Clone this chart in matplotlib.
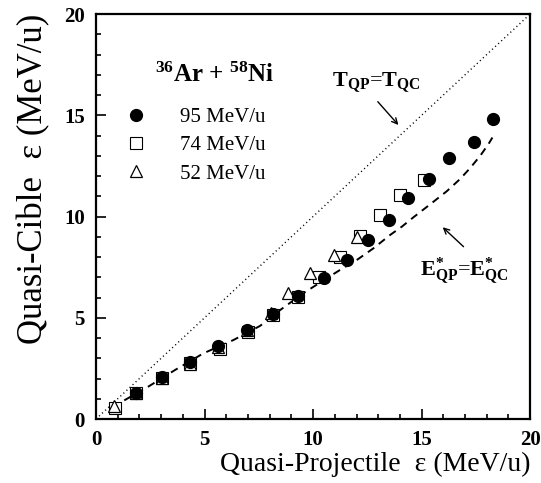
import numpy as np
import matplotlib
matplotlib.use("Agg")
import matplotlib.pyplot as plt
from matplotlib.ticker import MultipleLocator

# serif fonts everywhere, math in the same face
plt.rcParams['font.family'] = ['Liberation Serif', 'DejaVu Serif']
plt.rcParams['mathtext.fontset'] = 'custom'
plt.rcParams['mathtext.rm'] = 'Liberation Serif'
plt.rcParams['mathtext.bf'] = 'Liberation Serif:bold'
plt.rcParams['mathtext.it'] = 'Liberation Serif:italic'

# 95 MeV/u
x95 = [1.83, 3.03, 4.33, 5.64, 6.94, 8.14, 9.32, 10.48, 11.55, 12.55, 13.50, 14.36, 15.35, 16.24, 17.39, 18.28]
y95 = [1.30, 2.05, 2.80, 3.62, 4.40, 5.20, 6.06, 6.95, 7.87, 8.86, 9.83, 10.90, 11.87, 12.90, 13.70, 14.80]

# 74 MeV/u
x74 = [0.88, 1.83, 3.03, 4.33, 5.70, 6.98, 8.14, 9.32, 10.25, 11.24, 12.17, 13.09, 14.01, 15.13]
y74 = [0.55, 1.27, 2.01, 2.78, 3.45, 4.30, 5.15, 6.02, 7.03, 8.02, 9.05, 10.07, 11.06, 11.80]

# 52 MeV/u
x52 = [0.85, 1.83, 3.03, 4.35, 5.64, 6.94, 8.05, 8.86, 9.86, 10.94, 12.01]
y52 = [0.62, 1.30, 2.03, 2.72, 3.55, 4.38, 5.25, 6.21, 7.19, 8.10, 9.00]

# E*_QP = E*_QC curve
xe = [1.3, 2.41, 3.64, 4.94, 6.33, 7.56, 8.48, 9.55, 10.63, 11.24, 12.01, 12.78,
      13.55, 14.09, 14.62, 15.39, 16.16, 16.77, 17.24, 17.70, 18.08, 18.26]
ye = [0.92, 1.60, 2.42, 3.24, 3.90, 4.60, 5.38, 6.21, 6.95, 7.36, 7.85, 8.43,
      9.09, 9.50, 9.96, 10.60, 11.25, 11.85, 12.40, 13.00, 13.58, 13.90]

# T_QP = T_QC diagonal
xt = [0, 20]
yt = [0, 20]

fig = plt.figure(figsize=(5.41, 4.83), dpi=100)
ax = fig.add_axes([0.1775, 0.1325, 0.8025, 0.8385])

ax.plot(xt, yt, color='black', lw=1.0, ls=(0, (0.8, 2.2)))
ax.plot(xe, ye, color='black', lw=1.4, ls=(0, (4, 3)))

ax.plot(x74, y74, ls='none', marker='s', ms=8, mfc='white', mec='black', mew=0.8,
        label='74 MeV/u', zorder=3)
ax.plot(x52, y52, ls='none', marker='^', ms=8.5, mfc='white', mec='black', mew=0.9,
        label='52 MeV/u', zorder=3)
ax.plot(x95, y95, ls='none', marker='o', ms=8.5, color='black',
        label='95 MeV/u', zorder=4)

h, l = ax.get_legend_handles_labels()
order = [2, 0, 1]
ax.legend([h[i] for i in order], [l[i] for i in order], loc='upper left',
          bbox_to_anchor=(0.05, 0.79), frameon=False, fontsize=15,
          handletextpad=1.6, labelspacing=0.42, handlelength=1.0,
          borderaxespad=0)

ax.text(2.7, 16.64, r'$^{\mathbf{36}}$Ar + $^{\mathbf{58}}$Ni', fontsize=18,
        fontweight='bold', va='baseline')

# labels and their arrows
ax.text(12.9, 16.6, r'$\mathbf{T_{QP}}$=$\mathbf{T_{QC}}$', fontsize=16,
        ha='center', va='center')
ax.annotate('', xy=(13.93, 14.52), xytext=(12.98, 15.67),
            arrowprops=dict(arrowstyle='->', color='black', lw=1.0,
                            shrinkA=0, shrinkB=0))
ax.text(16.95, 7.3, r'$\mathbf{E^{*}_{QP}}$=$\mathbf{E^{*}_{QC}}$', fontsize=16,
        ha='center', va='center')
ax.annotate('', xy=(15.97, 9.47), xytext=(16.93, 8.51),
            arrowprops=dict(arrowstyle='->', color='black', lw=1.0,
                            shrinkA=0, shrinkB=0))

ax.set_xlim(0, 20)
ax.set_ylim(0, 20)
ax.xaxis.set_major_locator(MultipleLocator(5))
ax.yaxis.set_major_locator(MultipleLocator(5))
ax.xaxis.set_minor_locator(MultipleLocator(1))
ax.yaxis.set_minor_locator(MultipleLocator(1))
ax.tick_params(which='both', direction='in', top=False, right=False, width=1.2,
               labelsize=15)
ax.tick_params(which='major', length=7, pad=8)
ax.tick_params(which='minor', length=3.5)
for lab in ax.get_xticklabels() + ax.get_yticklabels():
    lab.set_fontweight('bold')
for s in ax.spines.values():
    s.set_linewidth(1.6)

ax.set_xlabel('Quasi-Projectile  ε (MeV/u)', fontsize=20, loc='right', labelpad=1)
ax.set_ylabel('Quasi-Cible  ε (MeV/u)', fontsize=25, loc='top', labelpad=10)

fig.savefig('out.png', dpi=100)
